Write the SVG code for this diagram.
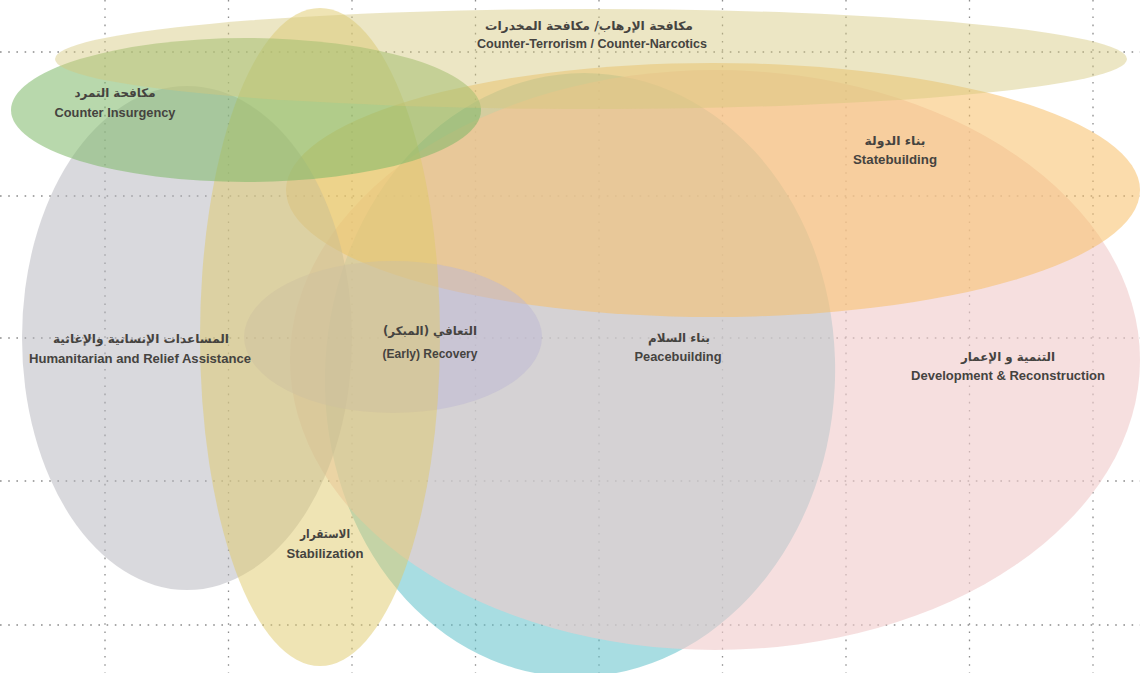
<svg xmlns="http://www.w3.org/2000/svg" width="1140" height="673" viewBox="0 0 1140 673">
<style>
.grid line{stroke:#8c8c8c;stroke-width:1.3;stroke-dasharray:1.6 6.6}
.en{font-family:"Liberation Sans",Arial,sans-serif;font-size:13px;font-weight:bold;fill:#45433f;text-anchor:middle}
.ar{font-family:"DejaVu Sans","Noto Sans",sans-serif;font-size:12px;font-weight:bold;fill:#45433f;text-anchor:middle}
</style>
<rect width="1140" height="673" fill="#ffffff"/>
<g class="grid">
<line x1="105" y1="0" x2="105" y2="673"/>
<line x1="228.5" y1="0" x2="228.5" y2="673"/>
<line x1="352" y1="0" x2="352" y2="673"/>
<line x1="475.5" y1="0" x2="475.5" y2="673"/>
<line x1="599" y1="0" x2="599" y2="673"/>
<line x1="722.5" y1="0" x2="722.5" y2="673"/>
<line x1="846" y1="0" x2="846" y2="673"/>
<line x1="969.5" y1="0" x2="969.5" y2="673"/>
<line x1="1093" y1="0" x2="1093" y2="673"/>
<line x1="0" y1="52" x2="1140" y2="52"/>
<line x1="0" y1="196" x2="1140" y2="196"/>
<line x1="0" y1="338" x2="1140" y2="338"/>
<line x1="0" y1="481" x2="1140" y2="481"/>
<line x1="0" y1="625" x2="1140" y2="625"/>
</g>
<g id="peacebuilding">
<ellipse cx="580" cy="375" rx="255" ry="302" transform="rotate(3 580 375)" fill="#61c1ca" fill-opacity="0.55"/>
</g>
<g id="development">
<ellipse cx="715" cy="360" rx="425" ry="290" fill="#f0cccc" fill-opacity="0.62"/>
</g>
<g id="statebuilding">
<ellipse cx="713" cy="190" rx="427" ry="127" fill="#f8bf68" fill-opacity="0.55"/>
</g>
<g id="humanitarian">
<ellipse cx="187" cy="338" rx="165" ry="252" fill="#b4b4bc" fill-opacity="0.5"/>
</g>
<g id="early-recovery">
<ellipse cx="393" cy="337" rx="149" ry="76" fill="#bdb8d4" fill-opacity="0.5"/>
</g>
<g id="stabilization">
<ellipse cx="320" cy="337" rx="120" ry="329" fill="#dfc969" fill-opacity="0.5"/>
</g>
<g id="counter-insurgency">
<ellipse cx="246" cy="110" rx="235" ry="72" fill="#7db868" fill-opacity="0.55"/>
</g>
<g id="counter-terrorism">
<ellipse cx="591" cy="59" rx="536" ry="50" fill="#d5c77c" fill-opacity="0.45"/>
</g>
<g id="labels">
<text class="ar" x="589" y="30" direction="rtl" textLength="208" lengthAdjust="spacingAndGlyphs">مكافحة الإرهاب/ مكافحة المخدرات</text>
<text class="en" x="592" y="48" textLength="230" lengthAdjust="spacingAndGlyphs">Counter-Terrorism / Counter-Narcotics</text>
<text class="ar" x="115" y="97" direction="rtl" textLength="81" lengthAdjust="spacingAndGlyphs">مكافحة التمرد</text>
<text class="en" x="115" y="117" textLength="121" lengthAdjust="spacingAndGlyphs">Counter Insurgency</text>
<text class="ar" x="895" y="145" direction="rtl" textLength="61" lengthAdjust="spacingAndGlyphs">بناء الدولة</text>
<text class="en" x="895" y="164" textLength="84" lengthAdjust="spacingAndGlyphs">Statebuilding</text>
<text class="ar" x="141" y="343" direction="rtl" textLength="176" lengthAdjust="spacingAndGlyphs">المساعدات الإنسانية والإغاثية</text>
<text class="en" x="140" y="363" textLength="222" lengthAdjust="spacingAndGlyphs">Humanitarian and Relief Assistance</text>
<text class="ar" x="430" y="335" direction="rtl" textLength="94" lengthAdjust="spacingAndGlyphs">التعافي (المبكر)</text>
<text class="en" x="430" y="358" textLength="95" lengthAdjust="spacingAndGlyphs">(Early) Recovery</text>
<text class="ar" x="679" y="342" direction="rtl" textLength="62" lengthAdjust="spacingAndGlyphs">بناء السلام</text>
<text class="en" x="678" y="361" textLength="87" lengthAdjust="spacingAndGlyphs">Peacebuilding</text>
<text class="ar" x="1008" y="361" direction="rtl" textLength="94" lengthAdjust="spacingAndGlyphs">التنمية و الإعمار</text>
<text class="en" x="1008" y="380" textLength="194" lengthAdjust="spacingAndGlyphs">Development &amp; Reconstruction</text>
<text class="ar" x="325" y="538" direction="rtl" textLength="50" lengthAdjust="spacingAndGlyphs">الاستقرار</text>
<text class="en" x="325" y="558" textLength="77" lengthAdjust="spacingAndGlyphs">Stabilization</text>
</g>
</svg>
